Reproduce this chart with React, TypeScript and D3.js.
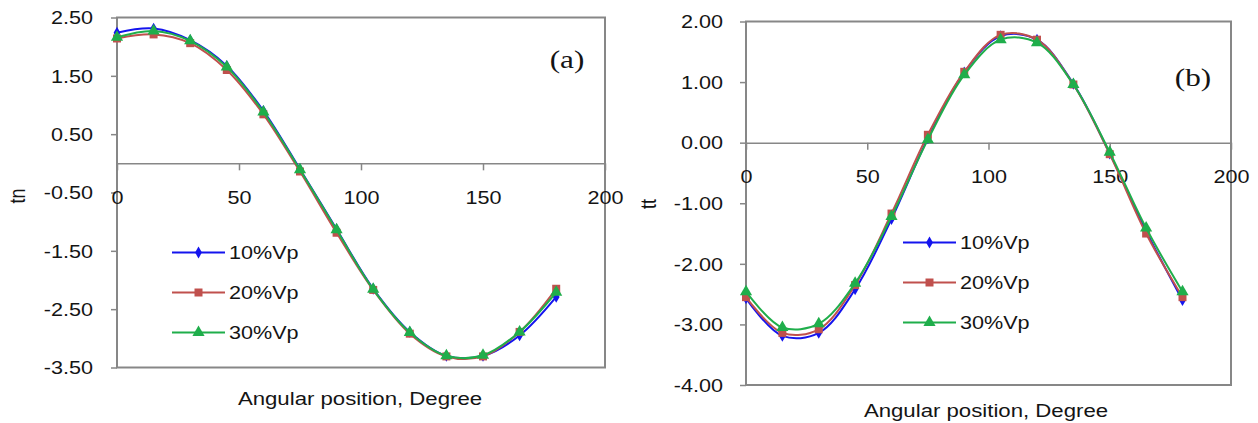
import { useEffect, useRef } from "react";
import * as d3 from "d3";

// angular positions (degree) shared by both panels
const angles = [0, 15, 30, 45, 60, 75, 90, 105, 120, 135, 150, 165, 180];
const seriesNames = ["10%Vp", "20%Vp", "30%Vp"];

// panel (a): tn
const tn10 = [2.24, 2.31, 2.11, 1.67, 0.9, -0.1, -1.13, -2.15, -2.89, -3.3, -3.3, -2.95, -2.29];
const tn20 = [2.14, 2.21, 2.06, 1.6, 0.84, -0.14, -1.19, -2.17, -2.92, -3.31, -3.31, -2.89, -2.15];
const tn30 = [2.16, 2.27, 2.1, 1.65, 0.88, -0.11, -1.14, -2.16, -2.9, -3.3, -3.29, -2.89, -2.21];

// panel (b): tt
const tt10 = [-2.57, -3.19, -3.14, -2.42, -1.26, 0.07, 1.16, 1.76, 1.7, 0.97, -0.18, -1.46, -2.6];
const tt20 = [-2.55, -3.14, -3.08, -2.35, -1.17, 0.13, 1.17, 1.78, 1.7, 0.96, -0.19, -1.5, -2.55];
const tt30 = [-2.46, -3.05, -2.99, -2.32, -1.22, 0.05, 1.12, 1.7, 1.65, 0.96, -0.16, -1.41, -2.46];

const xTicks = [0, 50, 100, 150, 200];
const tnTicks = [2.5, 1.5, 0.5, -0.5, -1.5, -2.5, -3.5];
const ttTicks = [2, 1, 0, -1, -2, -3, -4];

const colors = ["#1414ee", "#c0504d", "#1fae4b"];
const symbols = [d3.symbolDiamond, d3.symbolSquare, d3.symbolTriangle];
const symbolSizes = [40, 64, 64];

// the source picture is widened, so text gets the same stretch
const STRETCH = 1.2;
const FONT = "'Liberation Sans', Arial, sans-serif";
const GREY = "#878787";
const INK = "#141414";

type Layout = {
  left: number;
  right: number;
  top: number;
  bottom: number;
  yLabelGap: number;
  yTitle: [number, number];
  xTitle: [number, number];
  tag: [number, number];
  legend: [number, number, number];
};

const layoutA: Layout = {
  left: 117, right: 605, top: 17.5, bottom: 367.5,
  yLabelGap: 24,
  yTitle: [17, 196],
  xTitle: [360, 399],
  tag: [567, 68],
  legend: [172, 252.5, 40],
};

const layoutB: Layout = {
  left: 746, right: 1231, top: 21.5, bottom: 385,
  yLabelGap: 23,
  yTitle: [648, 204],
  xTitle: [986, 411],
  tag: [1193, 86],
  legend: [903, 242.5, 40],
};

function CurvePanel({ layout, yTicks, series, yTitle, tag }: {
  layout: Layout; yTicks: number[]; series: number[][]; yTitle: string; tag: string;
}) {
  const gRef = useRef<SVGGElement>(null);

  useEffect(() => {
    const g = d3.select(gRef.current);
    g.selectAll("*").remove();
    const { left, right, top, bottom } = layout;

    const xScale = d3.scaleLinear().domain([0, 200]).range([left, right]);
    const yScale = d3.scaleLinear()
      .domain([yTicks[0], yTicks[yTicks.length - 1]])
      .range([top, bottom]);

    g.append("rect")
      .attr("x", left).attr("y", top)
      .attr("width", right - left).attr("height", bottom - top)
      .attr("fill", "#fff")
      .attr("stroke", GREY).attr("stroke-width", 2);

    // y axis on the left edge (plain hyphen minus, like Excel)
    const yAxis = g.append("g")
      .attr("transform", `translate(${left},0)`)
      .call(d3.axisLeft(yScale).tickValues(yTicks).tickSize(6).tickSizeOuter(0)
        .tickFormat(d => (+d).toFixed(2)));
    yAxis.select(".domain").remove();
    yAxis.selectAll("line").attr("stroke", GREY).attr("stroke-width", 1.5);
    yAxis.selectAll("text")
      .attr("x", -layout.yLabelGap / STRETCH)
      .attr("transform", `scale(${STRETCH},1)`)
      .attr("dy", "0.35em")
      .attr("fill", INK)
      .style("font", `18px ${FONT}`);

    // x axis sits on the zero line
    const xAxis = g.append("g")
      .attr("transform", `translate(0,${yScale(0)})`)
      .call(d3.axisBottom(xScale).tickValues(xTicks).tickSize(7).tickSizeOuter(0).tickPadding(20.5).tickFormat(d3.format("d")));
    xAxis.select(".domain").attr("stroke", GREY).attr("stroke-width", 1.5);
    xAxis.selectAll("line").attr("stroke", GREY).attr("stroke-width", 1.5);
    xAxis.selectAll("text")
      .attr("transform", `scale(${STRETCH},1)`)
      .attr("fill", INK)
      .style("font", `18px ${FONT}`);

    const line = d3.line<number>()
      .x((_, i) => xScale(angles[i]))
      .y(d => yScale(d))
      .curve(d3.curveCatmullRom.alpha(0.5));

    series.forEach((values, k) => {
      g.append("path")
        .attr("d", line(values))
        .attr("fill", "none")
        .attr("stroke", colors[k])
        .attr("stroke-width", 2);
      g.append("g")
        .selectAll("path")
        .data(values)
        .join("path")
        .attr("transform", (d, i) => `translate(${xScale(angles[i])},${yScale(d)})`)
        .attr("d", d3.symbol(symbols[k], symbolSizes[k])())
        .attr("fill", colors[k]);
    });

    // legend
    const [lx, ly, step] = layout.legend;
    const legend = g.append("g")
      .selectAll("g")
      .data(seriesNames)
      .join("g")
      .attr("transform", (_, i) => `translate(${lx},${ly + i * step})`);
    legend.append("line")
      .attr("x1", 0).attr("x2", 53)
      .attr("stroke", (_, i) => colors[i]).attr("stroke-width", 2);
    legend.append("path")
      .attr("transform", "translate(26.5,0)")
      .attr("d", (_, i) => d3.symbol(symbols[i], symbolSizes[i])())
      .attr("fill", (_, i) => colors[i]);
    legend.append("text")
      .attr("transform", `translate(57,0) scale(${STRETCH},1)`)
      .attr("dy", "0.35em")
      .attr("fill", INK)
      .style("font", `18px ${FONT}`)
      .text(d => d);

    g.append("text")
      .attr("transform", `translate(${layout.xTitle[0]},${layout.xTitle[1]}) scale(${STRETCH},1)`)
      .attr("text-anchor", "middle")
      .attr("dy", "0.35em")
      .attr("fill", INK)
      .style("font", `18.5px ${FONT}`)
      .text("Angular position, Degree");

    g.append("text")
      .attr("transform", `translate(${layout.yTitle[0]},${layout.yTitle[1]}) scale(${STRETCH},1) rotate(-90)`)
      .attr("text-anchor", "middle")
      .attr("dy", "0.35em")
      .attr("fill", INK)
      .style("font", `18px ${FONT}`)
      .text(yTitle);

    g.append("text")
      .attr("transform", `translate(${layout.tag[0]},${layout.tag[1]}) scale(${STRETCH},1)`)
      .attr("text-anchor", "middle")
      .attr("fill", INK)
      .style("font", "26px 'Liberation Serif', 'Times New Roman', serif")
      .text(tag);
  }, [layout, yTicks, series, yTitle, tag]);

  return <g ref={gRef} />;
}

export default function App() {
  return (
    <svg
      width={1258}
      height={423}
      style={{ position: "absolute", left: 0, top: 0, background: "#fff" }}
    >
      <CurvePanel layout={layoutA} yTicks={tnTicks} series={[tn10, tn20, tn30]} yTitle="tn" tag="(a)" />
      <CurvePanel layout={layoutB} yTicks={ttTicks} series={[tt10, tt20, tt30]} yTitle="tt" tag="(b)" />
    </svg>
  );
}
